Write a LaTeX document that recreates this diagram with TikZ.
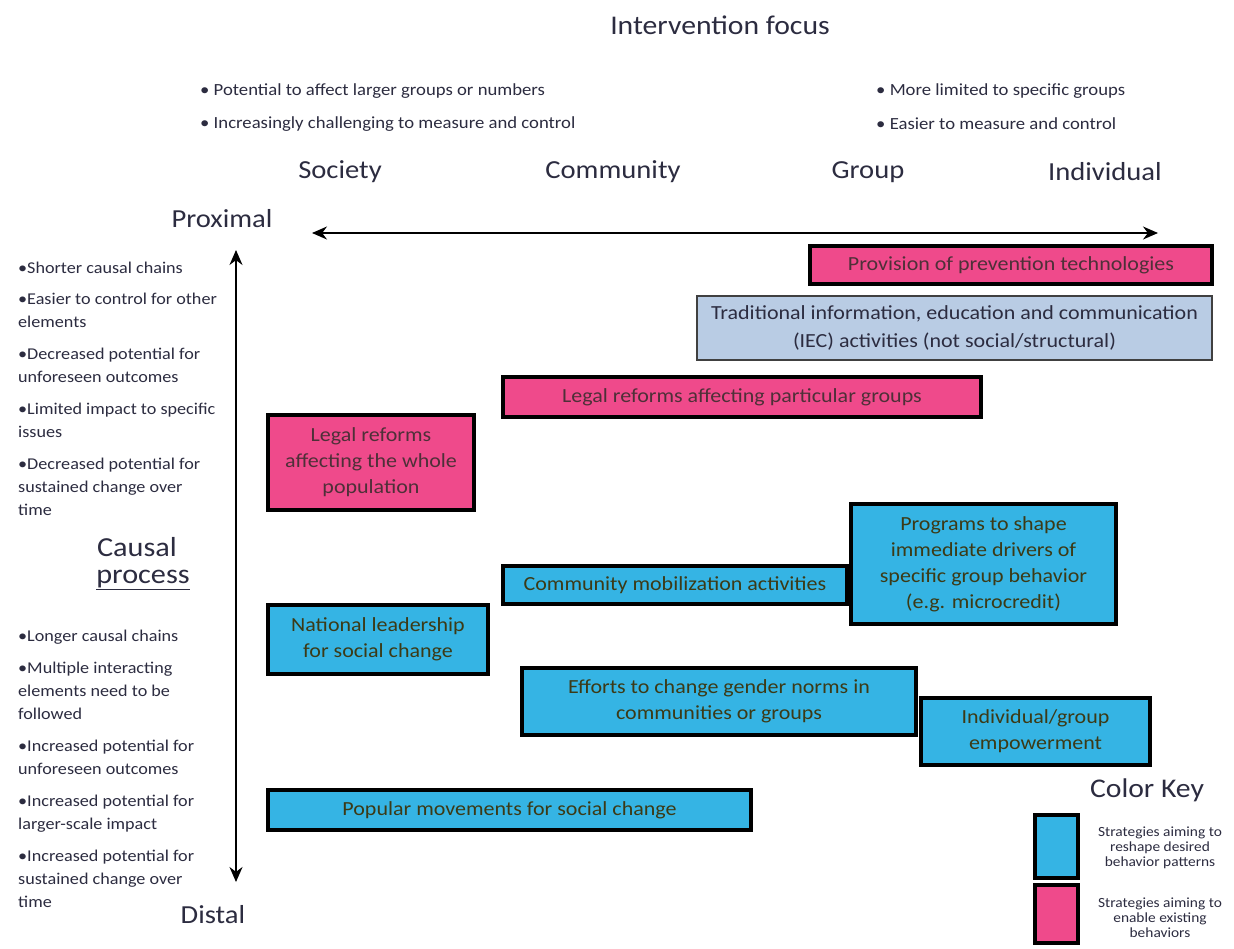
\documentclass[tikz,border=0pt]{standalone}
\usepackage{fontspec}
\setmainfont{Carlito}[FakeStretch=1.1]
\usetikzlibrary{arrows.meta}
\definecolor{cyanbox}{HTML}{35B4E4}
\definecolor{pinkbox}{HTML}{EF4A8B}
\definecolor{iecbox}{HTML}{B9CCE4}
\definecolor{txt}{HTML}{2C2C40}
\definecolor{btxt}{HTML}{3C3A16}
\definecolor{ptxt}{HTML}{4E3038}
\begin{document}
\begin{tikzpicture}[x=1pt,y=-1pt,
  box/.style={draw=black, line width=3.5pt, inner sep=2pt, align=center,
    font=\fontsize{20}{26}\selectfont},
  bluebox/.style={box, fill=cyanbox, text=btxt},
  pinkb/.style={box, fill=pinkbox, text=ptxt},
  iecb/.style={box, fill=iecbox, text=txt, draw=black!75, line width=2pt,
    font=\fontsize{20}{28}\selectfont},
  keyb/.style={draw=black, line width=3.5pt, inner sep=0pt},
  head/.style={text=txt, font=\fontsize{26}{30}\selectfont, inner sep=0pt},
  topbul/.style={text=txt, font=\fontsize{17}{18}\selectfont, anchor=west, inner sep=0pt},
  sidebul/.style={text=txt, font=\fontsize{16.5}{23}\selectfont, anchor=north west, align=left, inner sep=0pt},
  keytxt/.style={text=txt, font=\fontsize{14}{15}\selectfont, align=center, inner sep=0pt},
  axis/.style={line width=1.6pt, {Stealth[length=15pt,width=13pt]}-{Stealth[length=15pt,width=13pt]}}
]
\useasboundingbox (0,0) rectangle (1234,948);
\fill[white] (0,0) rectangle (1234,948);

% titles
\node[head, font=\fontsize{27}{30}\selectfont] (title) at (720,25) {Intervention focus};
\node[topbul] (tl1) at (200,91) {• Potential to affect larger groups or numbers};
\node[topbul] (tl2) at (200,124) {• Increasingly challenging to measure and control};
\node[topbul] (tr1) at (876,91) {• More limited to specific groups};
\node[topbul] (tr2) at (876,124) {• Easier to measure and control};

\node[head] (soc) at (340,172) {Society};
\node[head] (com) at (613,172) {Community};
\node[head] (grp) at (868,172) {Group};
\node[head] (ind) at (1105,172) {Individual};

\node[head] (prox) at (222,219) {Proximal};
\node[head] (dist) at (213,915) {Distal};
\node[head, font=\fontsize{27.5}{30}\selectfont] (causal) at (137,547) {Causal};
\node[head, font=\fontsize{27.5}{30}\selectfont] (process) at (143,580) {\underline{process}};

% axes
\coordinate (hL) at (312,233);
\coordinate (hR) at (1158,233);
\coordinate (vT) at (236,250);
\coordinate (vB) at (236,882);
\draw[axis] (hL) -- (hR);
\draw[axis] (vT) -- (vB);

% side bullets (proximal)
\node[sidebul] (p1) at (18,262) {•Shorter causal chains};
\node[sidebul] (p2) at (18,293) {•Easier to control for other\\elements};
\node[sidebul] (p3) at (18,348) {•Decreased potential for\\unforeseen outcomes};
\node[sidebul] (p4) at (18,403) {•Limited impact to specific\\issues};
\node[sidebul] (p5) at (18,458) {•Decreased potential for\\sustained change over\\time};
% side bullets (distal)
\node[sidebul] (q1) at (18,630) {•Longer causal chains};
\node[sidebul] (q2) at (18,662) {•Multiple interacting\\elements need to be\\followed};
\node[sidebul] (q3) at (18,740) {•Increased potential for\\unforeseen outcomes};
\node[sidebul] (q4) at (18,795) {•Increased potential for\\larger-scale impact};
\node[sidebul] (q5) at (18,850) {•Increased potential for\\sustained change over\\time};

% strategy boxes
\node[pinkb, minimum width=402, minimum height=38] (prov) at (1011,265) {Provision of prevention technologies};
\node[iecb, minimum width=515, minimum height=64] (iec) at (954.5,328) {Traditional information, education and communication\\(IEC) activities (not social/structural)};
\node[pinkb, minimum width=478, minimum height=40] (legp) at (742,397) {Legal reforms affecting particular groups};
\node[pinkb, minimum width=206, minimum height=95] (legw) at (371,462.5) {Legal reforms\\affecting the whole\\population};
\node[bluebox, minimum width=265, minimum height=120] (prog) at (983.5,564) {Programs to shape\\immediate drivers of\\specific group behavior\\(e.g. microcredit)};
\node[bluebox, minimum width=344, minimum height=38] (comm) at (675,585) {Community mobilization activities};
\node[bluebox, minimum width=220, minimum height=69] (nat) at (378,639.5) {National leadership\\for social change};
\node[bluebox, minimum width=394, minimum height=67] (eff) at (719,701.5) {Efforts to change gender norms in\\communities or groups};
\node[bluebox, minimum width=229, minimum height=67] (emp) at (1035.5,731.5) {Individual/group\\empowerment};
\node[bluebox, minimum width=483, minimum height=40] (pop) at (509.5,810) {Popular movements for social change};

% colour key
\node[head, font=\fontsize{27}{30}\selectfont] (key) at (1147,790) {Color Key};
\node[keyb, fill=cyanbox, minimum width=43, minimum height=63] (kb) at (1056.5,846.5) {};
\node[keyb, fill=pinkbox, minimum width=43, minimum height=58] (kp) at (1056.5,914) {};
\node[keytxt] (kbt) at (1160,848) {Strategies aiming to\\reshape desired\\behavior patterns};
\node[keytxt] (kpt) at (1160,918) {Strategies aiming to\\enable existing\\behaviors};
\end{tikzpicture}
\end{document}
